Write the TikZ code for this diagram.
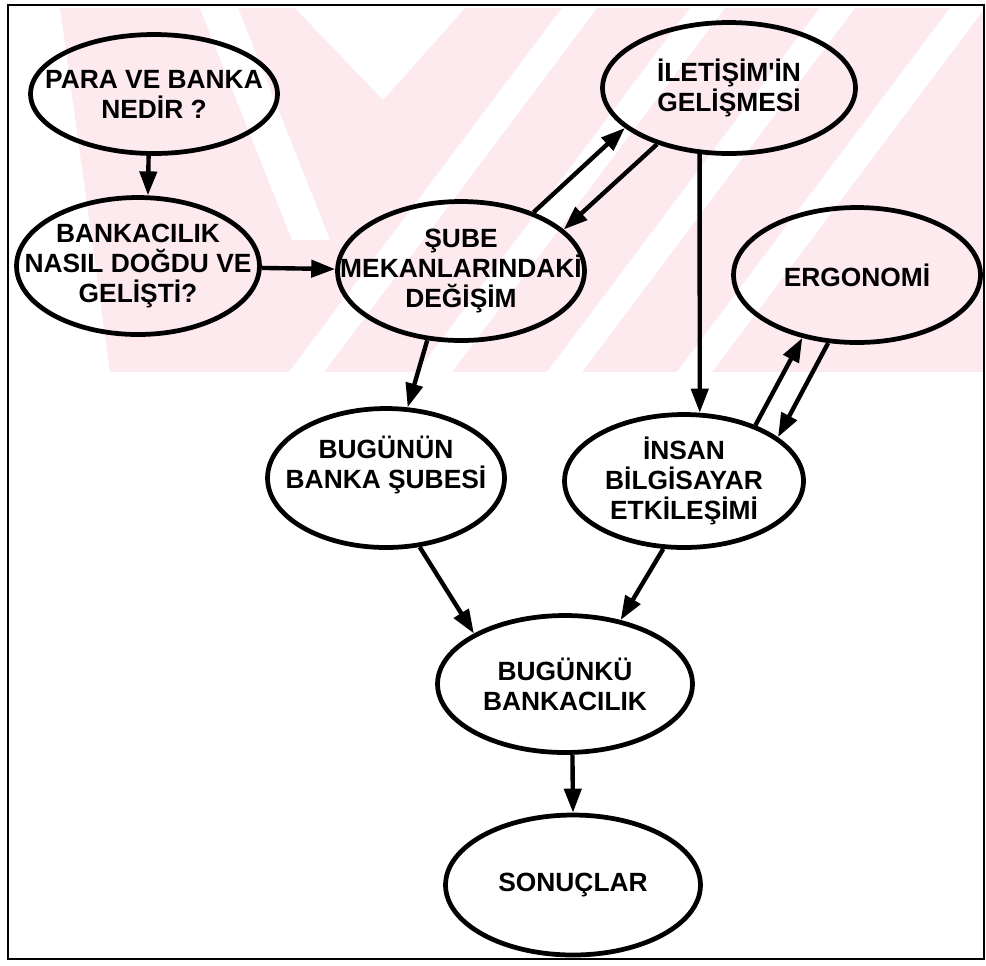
\documentclass[tikz,border=0pt]{standalone}
\usepackage{fontspec}
\setmainfont{Liberation Sans}
\usepackage{tikz}
\usetikzlibrary{shapes,arrows.meta}
\definecolor{wmpink}{RGB}{252,234,238}

\begin{document}
\begin{tikzpicture}[x=0.02cm, y=-0.02cm,
        oval/.style={draw, ellipse, line width=2.7pt, inner sep=0pt},
        lbl/.style={font=\bfseries\fontsize{15}{17}\selectfont, align=center},
        link/.style={->, line width=2.5pt, >={Triangle[length=0.48cm, width=0.34cm]}}]
    \useasboundingbox (0,0) rectangle (986,965);
    % faint background stripes
    \begin{scope}
        \clip (60,8) -- (984,8) -- (984,372) -- (110,372) -- cycle;
        \fill[wmpink] (0,0) rectangle (986,372);
        \foreach \x in {562, 690, 820, 950}
            \fill[white] (\x,8) -- (\x+35,8) -- (\x+35-273,372) -- (\x-273,372) -- cycle;
        \fill[white] (295,8) -- (465,8) -- (383,100) -- cycle;
        \fill[white] (200,8) -- (238,8) -- (330,240) -- (292,240) -- cycle;
    \end{scope}
    \draw[line width=1.1pt] (8,5) rectangle (984,959);
    % ovals
    \node[oval, minimum width=4.94cm, minimum height=2.38cm,
        label={[lbl]center:{PARA VE BANKA\\NEDİR ?}}] (para) at (154,94) {};
    \node[oval, minimum width=4.86cm, minimum height=2.74cm,
        label={[lbl]center:{BANKACILIK\\NASIL DOĞDU VE\\GELİŞTİ?}}] (bank) at (138,266) {};
    \node[oval, minimum width=4.94cm, minimum height=2.78cm,
        label={[lbl]center:{ŞUBE\\MEKANLARINDAKİ\\DEĞİŞİM}}] (sube) at (461,271) {};
    \node[oval, minimum width=5.06cm, minimum height=2.62cm,
        label={[lbl]center:{İLETİŞİM\textquotesingle İN\\GELİŞMESİ}}] (ilet) at (729,88) {};
    \node[oval, minimum width=4.94cm, minimum height=2.7cm,
        label={[lbl]center:{ERGONOMİ}}] (ergo) at (857,275) {};
    \node[oval, minimum width=4.74cm, minimum height=2.78cm,
        label={[lbl, yshift=0.26cm]center:{BUGÜNÜN\\BANKA ŞUBESİ}}] (bugnun) at (386,478) {};
    \node[oval, minimum width=4.78cm, minimum height=2.66cm,
        label={[lbl]center:{İNSAN\\BİLGİSAYAR\\ETKİLEŞİMİ}}] (insan) at (684,481) {};
    \node[oval, minimum width=5.1cm, minimum height=2.74cm,
        label={[lbl]center:{BUGÜNKÜ\\BANKACILIK}}] (bugku) at (565,684) {};
    \node[oval, minimum width=5.1cm, minimum height=2.8cm,
        label={[lbl]center:{SONUÇLAR}}] (sonuc) at (573,885) {};
    % arrows
    \draw[link] (para.265) -- (bank.82);
    \draw[link] (bank) -- (sube);
    \draw[link] (sube.39) -- (ilet.201);
    \draw[link] (ilet.218) -- (sube.22);
    \draw[link] (ilet.246) -- (insan.77);
    \draw[link] (sube.244) -- (bugnun.73);
    \draw[link] (insan.38) -- (ergo.229);
    \draw[link] (ergo.247) -- (insan.25);
    \draw[link] (bugnun.296) -- (bugku.151);
    \draw[link] (insan.253) -- (bugku.49);
    \draw[link] (bugku.276) -- (sonuc.north);
\end{tikzpicture}
\end{document}
